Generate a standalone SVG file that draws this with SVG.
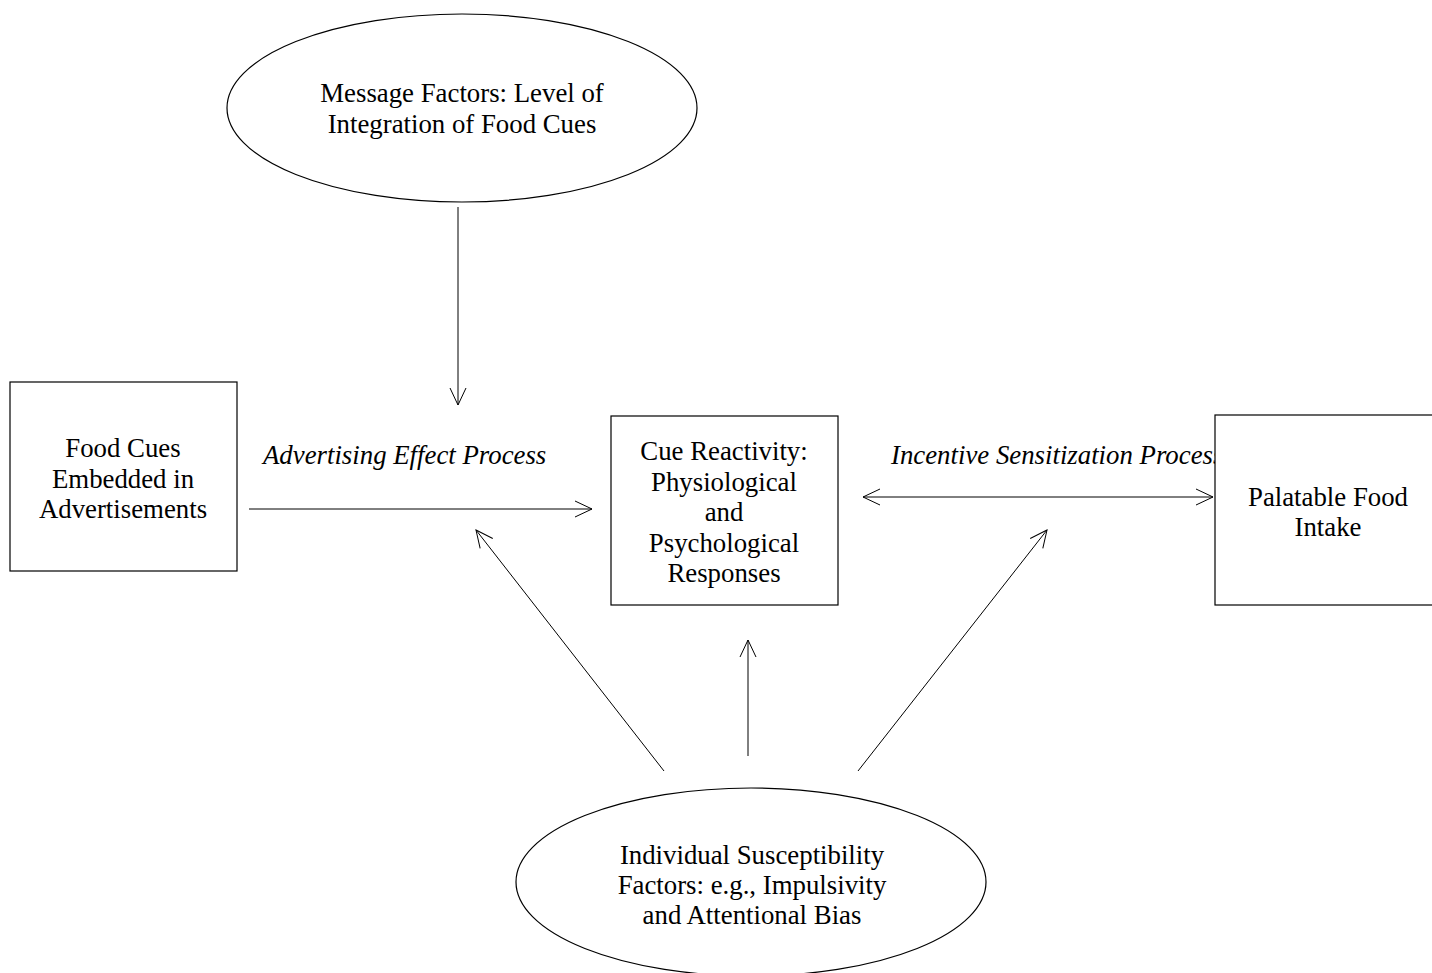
<svg xmlns="http://www.w3.org/2000/svg" width="1432" height="973" viewBox="0 0 1432 973">
<style>
.n{fill:#fff;stroke:#000;stroke-width:1.2}
.t{font-family:"Liberation Serif","Times New Roman",serif;font-size:26.8px;fill:#000;text-anchor:middle}
.i{font-family:"Liberation Serif","Times New Roman",serif;font-size:26.8px;font-style:italic;fill:#000}
.c{stroke:#000;stroke-width:1;fill:none}
</style>
<defs>
<marker id="ah" viewBox="-18 -10 20 20" refX="0" refY="0" markerWidth="20" markerHeight="20" markerUnits="userSpaceOnUse" orient="auto-start-reverse">
<path d="M-17,-8 L0,0 L-17,8" fill="none" stroke="#000" stroke-width="1"/>
</marker>
</defs>
<rect width="1432" height="973" fill="#fff"/>
<g id="labels">
<text class="i" x="263" y="464">Advertising Effect Process</text>
<text class="i" x="891" y="464">Incentive Sensitization Process</text>
</g>
<g id="connectors">
<line class="c" x1="458" y1="207" x2="458" y2="405" marker-end="url(#ah)"/>
<line class="c" x1="249" y1="509" x2="592" y2="509" marker-end="url(#ah)"/>
<line class="c" x1="863" y1="497" x2="1213" y2="497" marker-start="url(#ah)" marker-end="url(#ah)"/>
<line class="c" x1="664" y1="771" x2="476" y2="530" marker-end="url(#ah)"/>
<line class="c" x1="748" y1="756" x2="748" y2="640" marker-end="url(#ah)"/>
<line class="c" x1="858" y1="771" x2="1047" y2="530" marker-end="url(#ah)"/>
</g>
<g id="message-factors">
<ellipse class="n" cx="462" cy="108" rx="235" ry="94"/>
<text class="t" x="462" y="102">Message Factors: Level of</text>
<text class="t" x="462" y="133">Integration of Food Cues</text>
</g>
<g id="food-cues">
<rect class="n" x="10" y="382" width="227" height="189"/>
<text class="t" x="123" y="457">Food Cues</text>
<text class="t" x="123" y="488">Embedded in</text>
<text class="t" x="123" y="518">Advertisements</text>
</g>
<g id="cue-reactivity">
<rect class="n" x="611" y="416" width="227" height="189"/>
<text class="t" x="724" y="460">Cue Reactivity:</text>
<text class="t" x="724" y="491">Physiological</text>
<text class="t" x="724" y="521">and</text>
<text class="t" x="724" y="552">Psychological</text>
<text class="t" x="724" y="582">Responses</text>
</g>
<g id="palatable-food">
<rect class="n" x="1215" y="415" width="230" height="190"/>
<text class="t" x="1328" y="506">Palatable Food</text>
<text class="t" x="1328" y="536">Intake</text>
</g>
<g id="individual-susceptibility">
<ellipse class="n" cx="751" cy="882" rx="235" ry="94"/>
<text class="t" x="752" y="864">Individual Susceptibility</text>
<text class="t" x="752" y="894">Factors: e.g., Impulsivity</text>
<text class="t" x="752" y="924">and Attentional Bias</text>
</g>
</svg>
